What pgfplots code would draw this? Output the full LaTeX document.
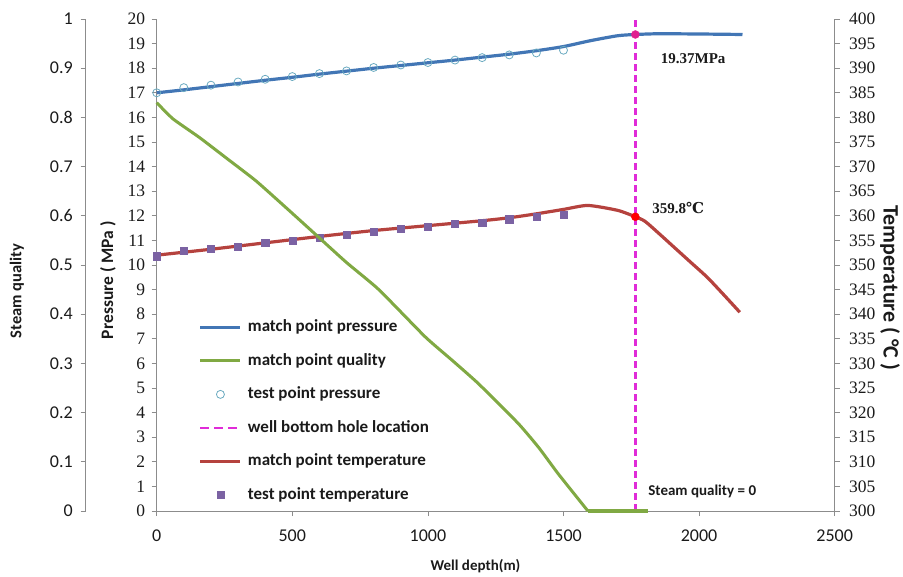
\documentclass[border=0pt]{standalone}
\usepackage{fontspec}
\usepackage{pgfplots}
\pgfplotsset{compat=1.18}
\setmainfont{Liberation Serif}
\setsansfont{Carlito}
\newfontfamily\dvs{DejaVu Serif}
\definecolor{cblue}{HTML}{4276B5}
\definecolor{cgreen}{HTML}{80A943}
\definecolor{cred}{HTML}{B5423E}
\definecolor{cpurple}{HTML}{7B62A3}
\definecolor{ccirc}{HTML}{6AAAC0}
\definecolor{cmag}{HTML}{E02BD8}
\definecolor{cdot}{HTML}{E0208F}
\definecolor{axgray}{HTML}{8C8C8C}
\definecolor{txt}{HTML}{1A1A1A}

\pgfplotstableread{
x y
0 17.00
100 17.12
200 17.25
300 17.38
400 17.51
500 17.63
600 17.76
700 17.88
800 18.00
900 18.11
1000 18.22
1100 18.33
1200 18.45
1300 18.57
1400 18.71
1500 18.88
1600 19.12
1700 19.32
1765 19.37
1850 19.40
2000 19.39
2160 19.37
}\presmatch

\pgfplotstableread{
x y
0 17.00
100 17.21
200 17.31
300 17.44
400 17.55
500 17.66
600 17.78
700 17.89
800 18.03
900 18.13
1000 18.23
1100 18.33
1200 18.43
1300 18.54
1400 18.62
1500 18.73
}\prestest

\pgfplotstableread{
x y
0 0.830
60 0.797
158 0.759
260 0.716
366 0.671
488 0.611
598 0.556
700 0.505
819 0.450
990 0.354
1090 0.306
1186 0.259
1333 0.178
1410 0.128
1480 0.076
1590 0.000
}\quality

\pgfplotstableread{
x y
1590 0.000
1810 0.000
}\qualityzero

\pgfplotstableread{
x y
0 352.0
200 353.2
400 354.5
600 355.8
800 357.0
1000 358.0
1200 359.0
1300 359.6
1400 360.4
1500 361.3
1590 362.1
1700 361.1
1765 359.8
1800 358.9
1850 356.5
1908 353.6
1970 350.5
2030 347.5
2090 344.0
2150 340.4
}\tempmatch

\pgfplotstableread{
x y
0 351.8
100 352.9
200 353.3
300 353.75
400 354.6
500 355.0
600 355.6
700 356.2
800 356.8
900 357.3
1000 357.8
1100 358.4
1200 358.6
1300 359.3
1400 359.8
1500 360.2
}\temptest

\pgfplotsset{
  base/.style={width=678bp,height=492bp,scale only axis,at={(0,0)},anchor=south west,
    xmin=0,xmax=2500,
    axis line style={axgray,line width=0.8bp},
    every tick/.style={axgray,line width=0.8bp},
    major tick length=5bp, tick align=outside,
    /pgf/number format/assume math mode=true,
    /pgf/number format/set thousands separator={},
    clip=false},
  legline/.style={legend image code/.code={\draw[##1] (0bp,0bp) -- (40bp,0bp);}},
  legmark/.style={legend image code/.code={\draw[##1] plot coordinates {(20bp,0bp)};}},
}

\begin{document}
\begin{tikzpicture}
\path[use as bounding box] (-156.7bp,-66bp) rectangle (746.3bp,511bp);

% pressure axis (left) with x axis
\begin{axis}[base,
  axis x line*=bottom, axis y line*=left,
  ymin=0,ymax=20, ytick={0,1,...,20},
  xtick={0,500,1000,1500,2000,2500},
  y tick label style={font=\fontsize{17.5bp}{18bp}\selectfont\rmfamily, text=txt, xshift=-3bp},
  x tick label style={font=\fontsize{18bp}{18bp}\selectfont\sffamily, text=txt, yshift=-10bp},
  legend style={draw=none, fill=none, at={(0.062,0.397)}, anchor=north west,
    font=\fontsize{17bp}{19bp}\selectfont\sffamily\bfseries, text=txt,
    row sep=10.5bp, column sep=4bp, inner sep=0pt,
    nodes={inner sep=2bp, text height=14bp, text depth=5bp, anchor=west}},
  legend cell align=left,
]
\addlegendimage{legline, cblue, line width=3bp}
\addlegendentry{match point pressure}
\addlegendimage{legline, cgreen, line width=3bp}
\addlegendentry{match point quality}
\addlegendimage{legmark, ccirc, mark=o, mark size=4bp, line width=0.8bp}
\addlegendentry{test point pressure}
\addlegendimage{legline, cmag, line width=2.5bp, dash pattern=on 9bp off 5bp}
\addlegendentry{well bottom hole location}
\addlegendimage{legline, cred, line width=3bp}
\addlegendentry{match point temperature}
\addlegendimage{legmark, cpurple, mark=square*, mark size=3.6bp}
\addlegendentry{test point temperature}

\addplot[forget plot, cblue, line width=3.2bp, smooth, tension=0.4] table[x=x,y=y] {\presmatch};
\addplot[forget plot, only marks, mark=o, mark size=4bp, mark options={ccirc, line width=0.8bp}] table[x=x,y=y] {\prestest};
\addplot[forget plot, cmag, line width=2.5bp, dash pattern=on 7bp off 4bp] coordinates {(1765,0) (1765,20)};
\addplot[forget plot, only marks, mark=*, mark size=4bp, mark options={cdot, draw=cdot}] coordinates {(1765,19.37)};
\node[anchor=west, font=\fontsize{15bp}{15bp}\selectfont\rmfamily\bfseries, text=txt] at (axis cs:1846,18.39) {19.37MPa};
\node[anchor=west, font=\fontsize{15bp}{15bp}\selectfont\sffamily\bfseries, text=txt] at (axis cs:1800,0.81) {Steam quality = 0};
\end{axis}

% temperature axis (right)
\begin{axis}[base,
  axis x line=none, axis y line*=right,
  ymin=300,ymax=400, ytick={300,305,...,400},
  y tick label style={font=\fontsize{17.5bp}{18bp}\selectfont\rmfamily, text=txt, xshift=6bp},
]
\addplot[cred, line width=3.2bp, smooth, tension=0.4] table[x=x,y=y] {\tempmatch};
\addplot[only marks, mark=square*, mark size=3.6bp, mark options={cpurple}] table[x=x,y=y] {\temptest};
\addplot[only marks, mark=*, mark size=4bp, mark options={red, draw=red}] coordinates {(1765,359.8)};
\node[anchor=west, font=\fontsize{15bp}{15bp}\selectfont\rmfamily\bfseries, text=txt] at (axis cs:1815,361.6) {359.8{\dvs ℃}};
\end{axis}

% steam quality axis (far left)
\begin{axis}[base, width=749bp, at={(-71bp,0)}, xmin=-261.8,
  axis x line=none, axis y line*=left,
  ymin=0,ymax=1, ytick={0,0.1,0.2,0.3,0.4,0.5,0.6,0.7,0.8,0.9,1},
  yticklabels={0,0.1,0.2,0.3,0.4,0.5,0.6,0.7,0.8,0.9,1},
  y tick label style={font=\fontsize{18bp}{18bp}\selectfont\sffamily, text=txt, xshift=-4.5bp},
]
\addplot[cgreen, line width=3bp, smooth, tension=0.3] table[x=x,y=y] {\quality};
\addplot[cgreen, line width=3bp] table[x=x,y=y] {\qualityzero};
\end{axis}

% axis titles
\node[rotate=90, font=\fontsize{16.5bp}{17bp}\selectfont\sffamily\bfseries, text=txt] at (-139.7bp,220bp) {Steam quality};
\node[rotate=90, font=\fontsize{17.5bp}{18bp}\selectfont\sffamily\bfseries, text=txt] at (-48.7bp,231bp) {Pressure ( MPa )};
\node[rotate=-90, font=\fontsize{22bp}{22bp}\selectfont\sffamily\bfseries, text=txt] at (733.3bp,223bp) {Temperature ( °C )};
\node[font=\fontsize{15bp}{15bp}\selectfont\sffamily\bfseries, text=txt] at (318.8bp,-55bp) {Well depth(m)};
\end{tikzpicture}
\end{document}
